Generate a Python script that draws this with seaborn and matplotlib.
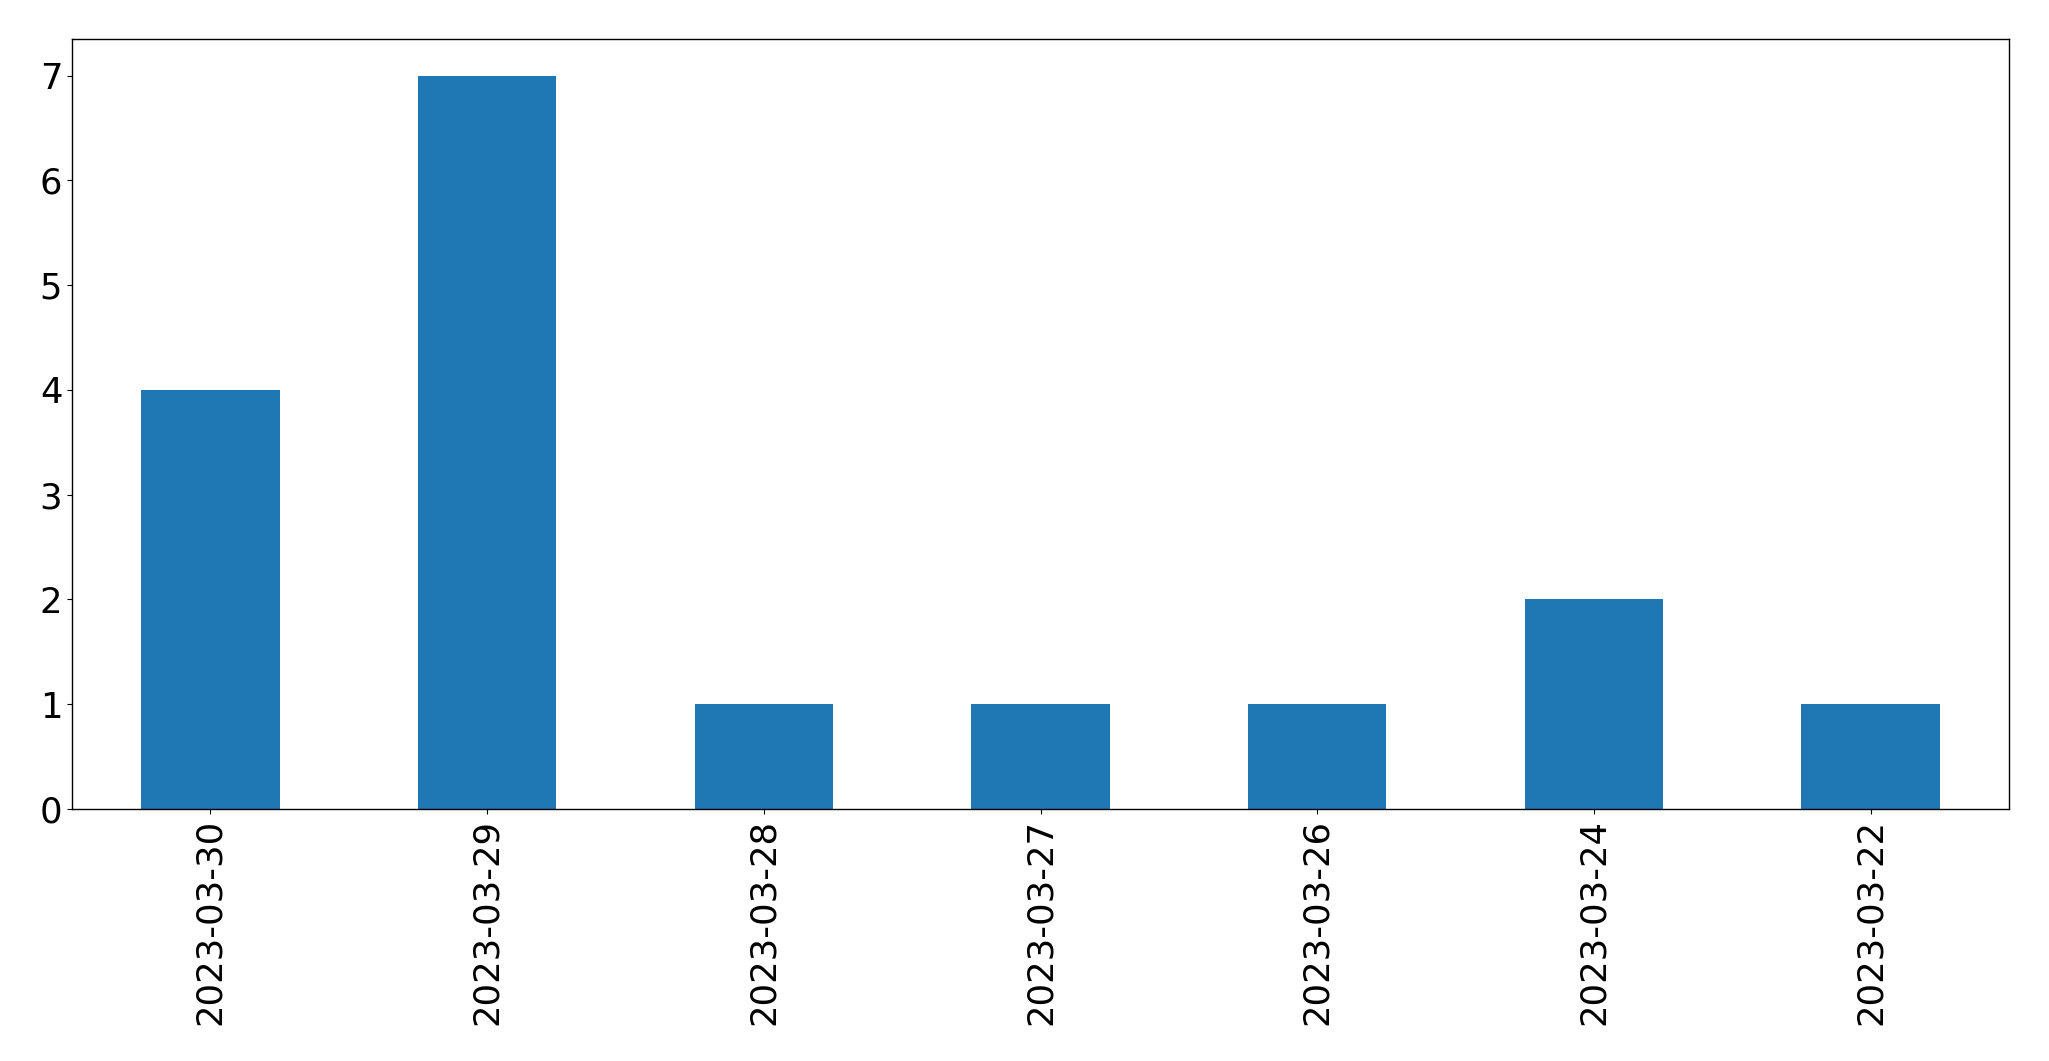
import pandas as pd
import matplotlib
matplotlib.use("Agg")
import matplotlib.pyplot as plt
import seaborn as sns

# counts per day, in the order shown
dates = ["2023-03-30", "2023-03-29", "2023-03-28", "2023-03-27",
         "2023-03-26", "2023-03-24", "2023-03-22"]
counts = [4, 7, 1, 1, 1, 2, 1]

df = pd.DataFrame({"date": dates, "count": counts})

plt.rcParams["font.family"] = ["DejaVu Sans"]
plt.rcParams["font.size"] = 25.5

fig = plt.figure(figsize=(20.49, 10.61), dpi=100)
ax = fig.add_axes([72 / 2049, (1061 - 809) / 1061, 1937 / 2049, 770 / 1061])

sns.barplot(data=df, x="date", y="count", order=dates, color="#1f77b4",
            saturation=1, width=0.5, ax=ax)

ax.set_xlim(-0.5, len(dates) - 0.5)
ax.set_ylim(0, max(counts) * 1.05)
ax.set_xlabel("")
ax.set_ylabel("")
ax.tick_params(axis="both", labelsize=25.5, length=3.5, color="black")
plt.setp(ax.get_xticklabels(), rotation=90)
for s in ax.spines.values():
    s.set_visible(True)
    s.set_linewidth(1)
    s.set_edgecolor("black")

fig.savefig("out.png", dpi=100, facecolor="white")
